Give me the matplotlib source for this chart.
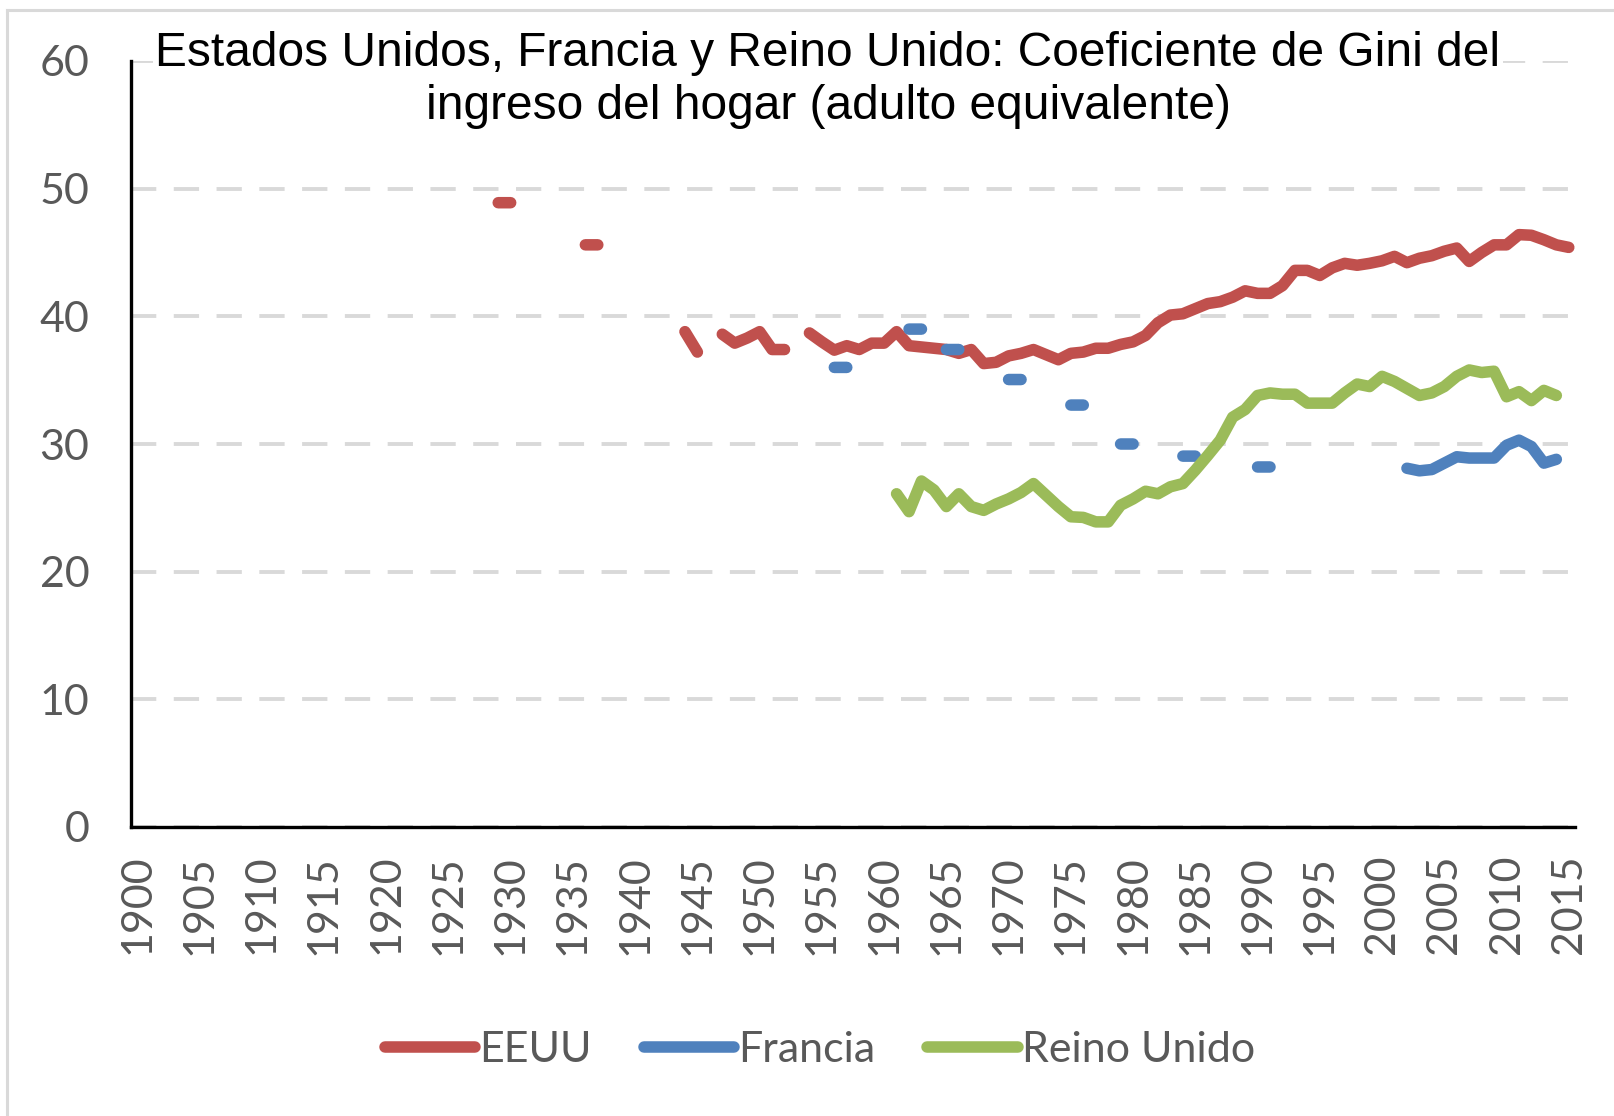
import numpy as np
import pandas as pd
import matplotlib
matplotlib.use("Agg")
import matplotlib.pyplot as plt
from matplotlib.lines import Line2D

# ---------------- data ----------------
title = "Estados Unidos, Francia y Reino Unido: Coeficiente de Gini del\ningreso del hogar (adulto equivalente)"
series_names = ["EEUU", "Francia", "Reino Unido"]
series_colors = ["#C0504D", "#4F81BD", "#9BBB59"]

first_year = 1900
last_year = 2015
tick_years = list(range(1900, 2016, 5))
y_ticks = [0, 10, 20, 30, 40, 50, 60]

usa_years = [1929, 1930, 1936, 1937, 1944, 1945,
             1947, 1948, 1949, 1950, 1951, 1952,
             1954, 1955, 1956, 1957, 1958, 1959, 1960, 1961, 1962, 1963,
             1964, 1965, 1966, 1967, 1968, 1969, 1970, 1971, 1972, 1973,
             1974, 1975, 1976, 1977, 1978, 1979, 1980, 1981, 1982, 1983,
             1984, 1985, 1986, 1987, 1988, 1989, 1990, 1991, 1992, 1993,
             1994, 1995, 1996, 1997, 1998, 1999, 2000, 2001, 2002, 2003,
             2004, 2005, 2006, 2007, 2008, 2009, 2010, 2011, 2012, 2013,
             2014, 2015]
usa_values = [48.9, 48.9, 45.6, 45.6, 38.8, 37.2,
              38.6, 37.9, 38.3, 38.8, 37.4, 37.4,
              38.7, 38.0, 37.35, 37.7, 37.4, 37.9, 37.9, 38.8, 37.7, 37.6,
              37.5, 37.4, 37.1, 37.4, 36.3, 36.4, 36.9, 37.1, 37.4, 37.0,
              36.6, 37.1, 37.2, 37.5, 37.5, 37.8, 38.0, 38.5, 39.5, 40.1,
              40.2, 40.6, 41.0, 41.15, 41.5, 42.0, 41.8, 41.8, 42.4, 43.6,
              43.6, 43.2, 43.8, 44.15, 44.0, 44.15, 44.35, 44.7, 44.2, 44.55,
              44.75, 45.1, 45.35, 44.3, 45.0, 45.6, 45.6, 46.4, 46.35, 46.0,
              45.6, 45.4]

fra_years = [1956, 1957, 1962, 1963, 1965, 1966, 1970, 1971, 1975, 1976,
             1979, 1980, 1984, 1985, 1990, 1991,
             2002, 2003, 2004, 2005, 2006, 2007, 2008, 2009, 2010, 2011,
             2012, 2013, 2014]
fra_values = [36.0, 36.0, 39.0, 39.0, 37.4, 37.4, 35.05, 35.05, 33.05, 33.05,
              30.0, 30.0, 29.05, 29.05, 28.2, 28.2,
              28.1, 27.9, 28.0, 28.5, 29.0, 28.9, 28.9, 28.9, 29.9, 30.3,
              29.8, 28.5, 28.8]

uk_years = [1961, 1962, 1963, 1964, 1965, 1966, 1967, 1968, 1969, 1970,
            1971, 1972, 1973, 1974, 1975, 1976, 1977, 1978, 1979, 1980,
            1981, 1982, 1983, 1984, 1985, 1986, 1987, 1988, 1989, 1990,
            1991, 1992, 1993, 1994, 1995, 1996, 1997, 1998, 1999, 2000,
            2001, 2002, 2003, 2004, 2005, 2006, 2007, 2008, 2009, 2010,
            2011, 2012, 2013, 2014]
uk_values = [26.1, 24.7, 27.1, 26.4, 25.1, 26.1, 25.1, 24.8, 25.3, 25.7,
             26.2, 26.9, 26.0, 25.1, 24.3, 24.25, 23.9, 23.9, 25.2, 25.7,
             26.3, 26.1, 26.65, 26.9, 27.95, 29.1, 30.3, 32.1, 32.7, 33.8,
             34.0, 33.9, 33.9, 33.2, 33.2, 33.2, 34.0, 34.7, 34.5, 35.3,
             34.9, 34.35, 33.8, 34.0, 34.5, 35.3, 35.8, 35.6, 35.7, 33.7,
             34.1, 33.4, 34.2, 33.8]

# ---------------- figure ----------------
W, H, DPI = 1614, 1116, 100
fig = plt.figure(figsize=(W / DPI, H / DPI), dpi=DPI)
fig.patch.set_facecolor("white")

ax = fig.add_axes([131 / W, 1 - 827 / H, (1575 - 131) / W, (827 - 61) / H])

all_years = pd.RangeIndex(first_year, last_year + 1)
series = [
    pd.Series(usa_values, index=usa_years).reindex(all_years),
    pd.Series(fra_values, index=fra_years).reindex(all_years),
    pd.Series(uk_values, index=uk_years).reindex(all_years),
]

LW = 8.3
for s, name, col in zip(series, series_names, series_colors):
    ax.plot(s.index, s.values, color=col, lw=LW, solid_capstyle="round",
            solid_joinstyle="round", label=name, zorder=3)

ax.set_xlim(first_year - 0.5, last_year + 0.5)
ax.set_ylim(0, 60)
ax.set_yticks(y_ticks)
ax.set_xticks(tick_years)
ax.set_xticklabels([str(y) for y in tick_years], rotation=90)

for lbl in ax.get_xticklabels() + ax.get_yticklabels():
    lbl.set_fontfamily("Lato")
    lbl.set_fontsize(31)
    lbl.set_color("#595959")
ax.tick_params(axis="y", length=0, pad=30)
ax.tick_params(axis="x", length=0, pad=20)

ax.yaxis.grid(True, color="#D9D9D9", lw=2.8, linestyle=(0, (6.5, 4.5)))
ax.set_axisbelow(True)
for side in ["top", "right"]:
    ax.spines[side].set_visible(False)
for side in ["left", "bottom"]:
    ax.spines[side].set_color("black")
    ax.spines[side].set_linewidth(2.4)

# title with white background
fig.text(828 / W, 1 - 80 / H, title, ha="center", va="center",
         multialignment="center", family="Liberation Sans", size=34.5,
         color="black", linespacing=1.23,
         bbox=dict(facecolor="white", edgecolor="none", pad=2), zorder=5)

# legend
handles = [Line2D([0], [0], color=c, lw=LW, solid_capstyle="round")
           for c in series_colors]
leg = fig.legend(handles, series_names, loc="center",
                 bbox_to_anchor=(820 / W, 1 - 1050 / H), ncol=3, frameon=False,
                 prop=dict(family="Lato", size=31), handlelength=2.1,
                 handletextpad=0.1, columnspacing=1.2)
for t in leg.get_texts():
    t.set_color("#595959")

# chart-area border (top and left visible in the crop)
fig.add_artist(Line2D([7 / W, 1], [1 - 10 / H, 1 - 10 / H],
                      transform=fig.transFigure, color="#D9D9D9", lw=2.2))
fig.add_artist(Line2D([7 / W, 7 / W], [0, 1 - 10 / H],
                      transform=fig.transFigure, color="#D9D9D9", lw=2.2))

fig.savefig("out.png", dpi=DPI)
